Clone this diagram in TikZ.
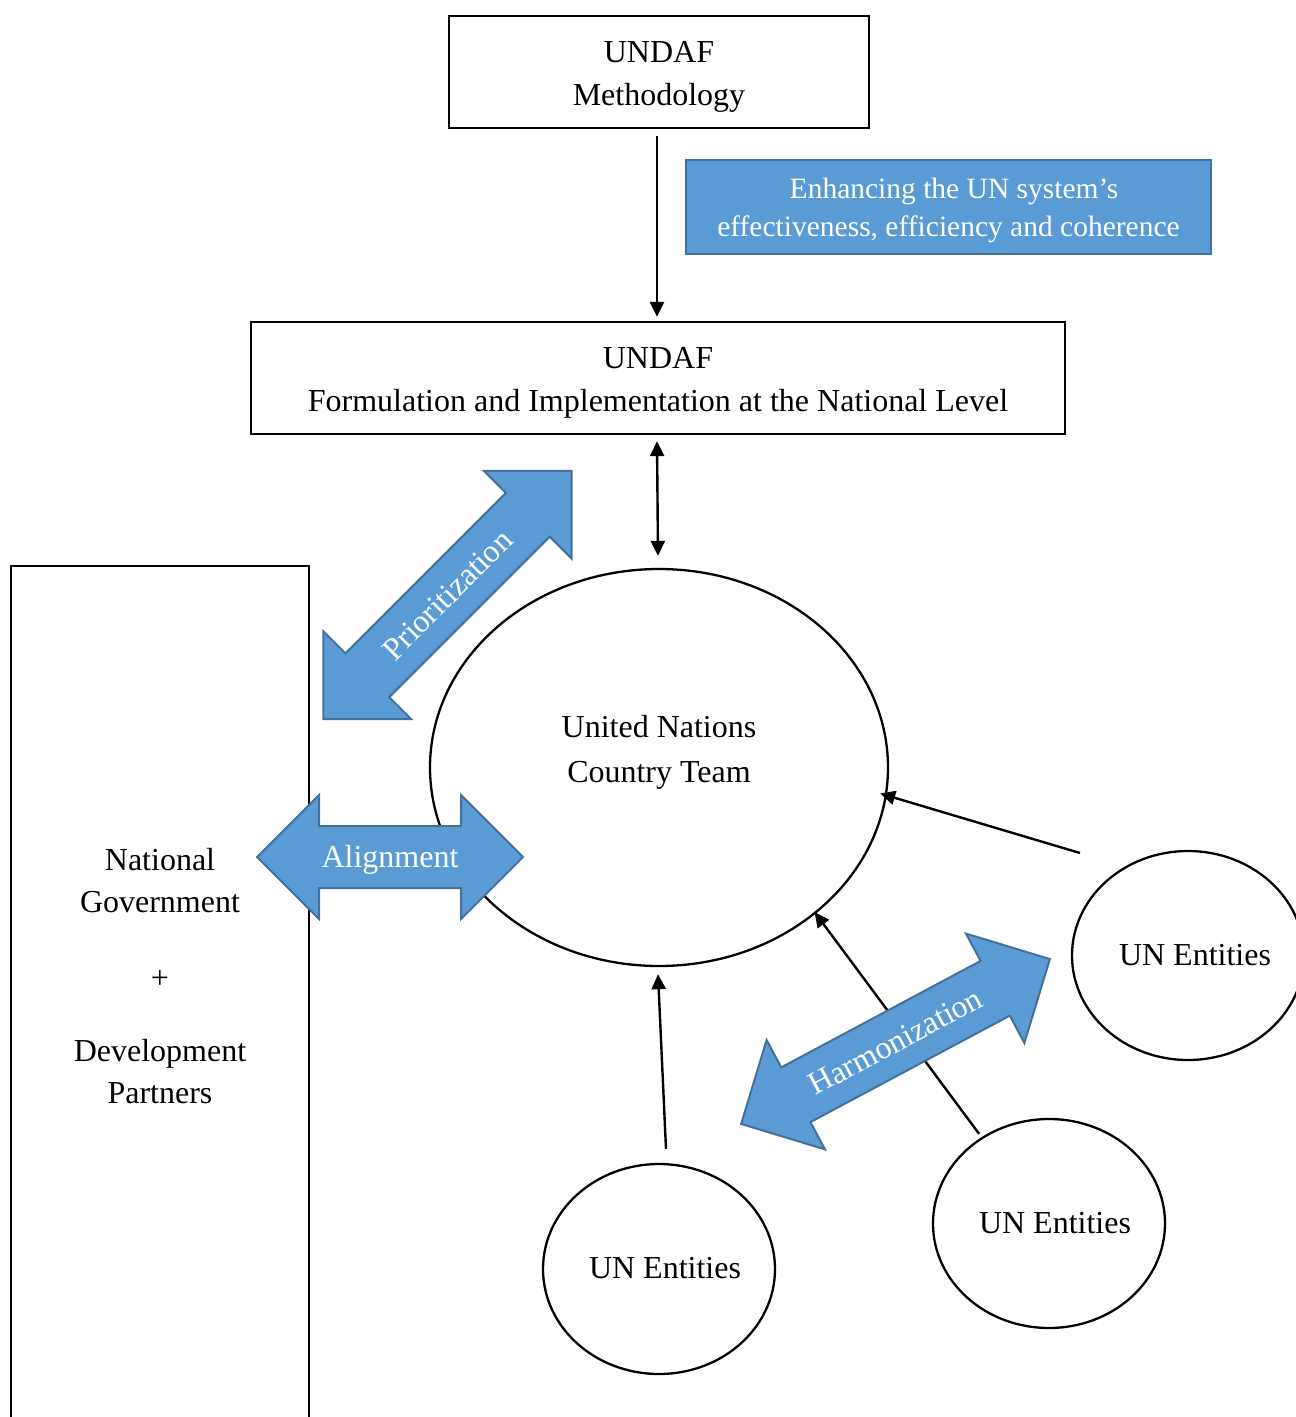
\documentclass[tikz,border=0pt]{standalone}
\usepackage{fontspec}
\setmainfont{Liberation Serif}
\usetikzlibrary{arrows.meta,shapes.geometric,calc}
\definecolor{bluefill}{HTML}{5B9BD5}
\definecolor{blueedge}{HTML}{41719C}
\begin{document}
\begin{tikzpicture}[x=1pt,y=-1pt,
  txt/.style={anchor=base, inner sep=0pt, font=\fontsize{32}{38}\selectfont},
  wtxt/.style={txt, text=white},
  smalltxt/.style={anchor=base, inner sep=0pt, text=white, font=\fontsize{29.5}{36}\selectfont},
  frame/.style={draw, line width=2.3pt, inner sep=0pt},
  oval/.style={draw, line width=2.3pt, ellipse, inner sep=0pt, fill=white},
  conn/.style={line width=2.4pt, -{Triangle[length=15pt,width=14pt]}},
  bidir/.style={line width=2.4pt, {Triangle[length=15pt,width=14pt]}-{Triangle[length=15pt,width=14pt]}},
  bluearrow/.style={fill=bluefill, draw=blueedge, line width=2pt, line join=miter}]
\useasboundingbox (0,0) rectangle (1296,1417);

% boxes
\node[frame, minimum width=420pt, minimum height=112pt] (meth) at (659,72) {};
\node[txt] (methA) at (659,62) {UNDAF};
\node[txt] (methB) at (659,105) {Methodology};

\node[frame, fill=bluefill, draw=blueedge, minimum width=525pt, minimum height=94pt] (enh) at (948.5,207) {};
\node[smalltxt] (enhA) at (954,198) {Enhancing the UN system’s};
\node[smalltxt] (enhB) at (948.5,236) {effectiveness, efficiency and coherence};

\node[frame, minimum width=814pt, minimum height=112pt] (form) at (658,378) {};
\node[txt] (formA) at (658,368) {UNDAF};
\node[txt] (formB) at (658,411) {Formulation and Implementation at the National Level};

% left column
\node[frame, minimum width=298pt, minimum height=880pt] (gov) at (160,1006) {};
\node[txt] (govA) at (160,870) {National};
\node[txt] (govB) at (160,912) {Government};
\node[txt] (govC) at (160,988) {+};
\node[txt] (govD) at (160,1061) {Development};
\node[txt] (govE) at (160,1103) {Partners};

% country team
\node[oval, minimum width=458pt, minimum height=397pt] (unct) at (659,767.5) {};
\node[txt] (unctA) at (659,737) {United Nations};
\node[txt] (unctB) at (659,782) {Country Team};

% entities
\node[oval, minimum width=232pt, minimum height=210pt] (e1) at (659,1269) {};
\node[txt] (e1t) at (665,1278) {UN Entities};
\node[oval, minimum width=232pt, minimum height=209pt] (e2) at (1049,1223.5) {};
\node[txt] (e2t) at (1055,1233) {UN Entities};
\node[oval, minimum width=232pt, minimum height=209pt] (e3) at (1188,955.5) {};
\node[txt] (e3t) at (1195,965) {UN Entities};

% connectors
\draw[conn] ($(meth.south)+(-2,7)$) -- ($(form.north)+(-1,-4)$);
\draw[bidir] ($(form.south)+(-1,6)$) -- ($(unct.north)+(-1,-12)$);
\draw[conn] ($(e1.north)+(7,-14)$) -- ($(unct.south)+(-1,7)$);
\draw[conn, shorten <=4pt, shorten >=-2pt] (e2.128.6) -- (unct.-43.2);
\coordinate (s3) at (1080,853);
\draw[conn, shorten >=-7pt] (s3) -- (unct.-7.6);

% blue double arrows
\begin{scope}[shift={(447.5,595)}, rotate=45]
\draw[bluearrow] (175.5,0)--(113.5,62)--(113.5,31)--(-113.5,31)--(-113.5,62)--(-175.5,0)--(-113.5,-62)--(-113.5,-31)--(113.5,-31)--(113.5,-62)--cycle;
\end{scope}
\node[wtxt, anchor=center, rotate=45] (prio) at (447.5,595) {Prioritization};

\begin{scope}[shift={(390,857)}]
\draw[bluearrow] (133,0)--(71,62)--(71,31)--(-71,31)--(-71,62)--(-133,0)--(-71,-62)--(-71,-31)--(71,-31)--(71,-62)--cycle;
\end{scope}
\node[wtxt] (align) at (390,867) {Alignment};

\begin{scope}[shift={(895.5,1041.5)}, rotate=28.1]
\draw[bluearrow] (175,0)--(113,62)--(113,31)--(-113,31)--(-113,62)--(-175,0)--(-113,-62)--(-113,-31)--(113,-31)--(113,-62)--cycle;
\end{scope}
\node[wtxt, anchor=center, rotate=28.1] (harm) at (895.5,1041.5) {Harmonization};
\end{tikzpicture}
\end{document}
